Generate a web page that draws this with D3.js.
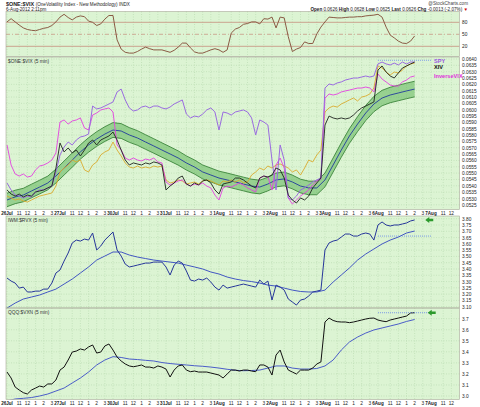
<!DOCTYPE html>
<html><head><meta charset="utf-8">
<script src="https://cdn.jsdelivr.net/npm/d3@7"></script>
<style>
body{margin:0;background:#fff}
svg{display:block}
text{font-family:"Liberation Sans",Arial,sans-serif}
</style>
</head><body>
<svg id="c" width="480" height="407"></svg>
<script>
// ---------- data (5-min chart sampled every half hour; index 0 = 26Jul 9:30) ----------
const dayLabels = ["26Jul","27Jul","30Jul","31Jul","1Aug","2Aug","3Aug","6Aug","7Aug"];
const hourLabels = ["11","12","1","2","3"];
const hourOffsets = [3,5,7,9,11];          // half-hours after the open
const mainTickLabels = ["0.0640","0.0635","0.0630","0.0625","0.0620","0.0615","0.0610","0.0605","0.0600","0.0595","0.0590","0.0585","0.0580","0.0575","0.0570","0.0565","0.0560","0.0555","0.0550","0.0545","0.0540","0.0535","0.0530","0.0525"];
const rsiTickLabels = ["80","50","20"];
const p2TickLabels = ["3.80","3.75","3.70","3.65","3.60","3.55","3.50","3.45","3.40","3.35","3.30","3.25","3.20","3.15","3.10"];
const p3TickLabels = ["3.7","3.6","3.5","3.4","3.3","3.2","3.1","3.0"];

const rsi = [81,89,81,73,66,62,60,59,62,65,
 67,72,81,93,100,92,86,93,96,94,
 83,80,72,76,88,97,97,36,13,5,
 3,3,7,13,18,14,11,11,11,8,
 5,10,18,28,28,16,6,3,3,7,
 11,14,11,5,11,53,63,67,75,77,
 81,81,76,89,88,93,66,93,91,44,
 7,13,17,31,27,27,51,68,81,93,
 92,91,91,92,93,93,94,94,96,97,
 98,100,93,68,48,41,33,28,27,33,46];

const spy = [.05422,.05367,.05327,.05319,.05304,.05319,.05312,.05351,.05367,.05367,
 .05383,.05398,.05509,.05643,.05706,.05745,.05722,.05761,.05785,.05793,
 .05808,.06029,.06006,.06014,.06029,.06045,.06061,.0614,.06163,.06077,
 .06014,.0599,.05998,.06021,.06029,.06014,.06029,.06029,.06014,.06006,
 .06021,.06045,.06061,.06077,.05966,.05935,.0595,.05943,.05966,.05998,
 .06014,.05982,.0584,.05982,.05974,.05958,.05982,.0599,.05998,.05982,
 .05935,.05801,.05919,.05903,.05879,.05603,.05367,.05722,.05603,.05304,
 .05288,.05319,.05367,.05383,.05406,.0543,.05446,.05461,.06171,.06203,
 .06195,.06211,.06219,.06234,.06242,.0625,.0625,.06258,.06266,.06258,
 .06266,.06361,.06376,.06361,.06353,.06368,.06353,.06376,.06361,.06376,.06376];

const xiv = [.05367,.05335,.05319,.05335,.05312,.05327,.05319,.05351,.05359,.05367,
 .05383,.05398,.0554,.05737,.05667,.05698,.05659,.05682,.05635,.05682,
 .05737,.05761,.05722,.05761,.05777,.05793,.05824,.05761,.05682,.05603,
 .05564,.0558,.05572,.05564,.0558,.05572,.05588,.0558,.05564,.05367,
 .05398,.05422,.05461,.05477,.05414,.05398,.05422,.05406,.05438,.05446,
 .05422,.05367,.05335,.05414,.05422,.0543,.05461,.05461,.05446,.05422,
 .05398,.05383,.05461,.05477,.05469,.05485,.0554,.05525,.05461,.05327,
 .05288,.05264,.05304,.05288,.05319,.05383,.05422,.05461,.05879,.0595,
 .05935,.05927,.05935,.05927,.05935,.05958,.0599,.06014,.06029,.06045,
 .06061,.06313,.06345,.06297,.06266,.0625,.0629,.06329,.06345,.06361,.06376];

const inverseVix = [.05722,.05564,.05493,.05477,.05493,.05469,.05477,.05525,.05556,.05564,
 .0558,.05603,.05659,.05903,.05919,.05887,.05911,.05919,.05935,.05856,
 .0584,.05958,.05974,.05998,.06006,.06014,.05982,.05722,.05682,.05619,
 .05603,.05619,.05603,.05596,.05611,.05603,.05619,.05588,.0558,.0543,
 .05406,.05422,.05438,.05446,.05414,.05398,.05414,.05406,.05422,.05398,
 .05383,.05327,.05288,.05383,.05398,.0539,.05406,.05422,.05406,.05383,
 .05367,.05351,.05461,.05477,.05469,.05367,.05564,.05619,.0554,.05304,
 .05256,.05288,.05319,.05343,.05367,.05406,.05438,.05454,.06092,.06124,
 .06116,.06124,.0614,.06148,.06155,.06163,.06171,.06171,.06179,.06171,
 .0614,.06282,.06242,.06219,.06195,.06187,.06187,.06219,.06234,.06258,.06266];

const oneVix = [.05319,.05304,.05288,.05296,.0528,.05272,.05288,.05304,.05319,.05327,
 .05335,.05343,.05398,.05509,.0554,.05564,.05603,.05588,.05603,.05525,
 .05509,.05564,.05588,.05643,.05667,.05682,.05745,.05682,.05635,.0558,
 .05548,.0554,.05556,.0554,.05548,.0554,.05556,.05548,.05556,.05446,
 .05422,.0543,.05446,.05438,.05414,.05422,.0543,.05414,.05438,.05446,
 .05438,.05422,.05406,.05438,.0543,.05446,.0543,.05446,.05422,.0543,
 .05485,.05509,.0554,.05525,.05556,.0554,.05564,.05572,.05556,.0554,
 .05509,.05525,.05485,.0554,.05603,.05588,.05643,.05682,.05982,.06014,
 .06029,.06021,.06045,.06061,.06077,.06092,.06069,.061,.06108,.06124,
 .06171,.06345,.06329,.06297,.06274,.06297,.0629,.06313,.06345,.06361,.06368];

// moving average (hourly samples) and its price envelope
const oneVixMA = [.05288,.05312,.05327,.05359,.0539,.05422,.05477,.0554,.05603,.05667,
 .05722,.05769,.05808,.0584,.05832,.05801,.05777,.05745,.05714,.05682,
 .05651,.05619,.0558,.05548,.05509,.05485,.05461,.05446,.0543,.05414,
 .05398,.0539,.05414,.05446,.05454,.0543,.05398,.05383,.05383,.05446,
 .05564,.05682,.05793,.05887,.05974,.06045,.06092,.06116,.06132,.06148,.06163];
const envelopePct = 0.01;

const iwmRvx = [3.328,3.304,3.288,3.248,3.256,3.217,3.217,3.224,3.224,3.240,
 3.240,3.288,3.368,3.392,3.463,3.527,3.607,3.630,3.622,3.638,
 3.630,3.686,3.551,3.583,3.630,3.662,3.694,3.551,3.503,3.439,
 3.416,3.423,3.431,3.439,3.447,3.447,3.455,3.455,3.455,3.416,
 3.352,3.431,3.463,3.447,3.384,3.312,3.304,3.320,3.312,3.328,
 3.296,3.256,3.232,3.272,3.248,3.256,3.264,3.272,3.280,3.272,
 3.264,3.256,3.312,3.280,3.304,3.153,3.272,3.256,3.232,3.161,
 3.137,3.113,3.153,3.161,3.185,3.217,3.224,3.232,3.551,3.607,
 3.622,3.630,3.654,3.678,3.678,3.662,3.662,3.678,3.686,3.678,
 3.630,3.750,3.774,3.750,3.742,3.750,3.750,3.758,3.766,3.782,3.790];
const iwmRvxMA = [3.089,3.129,3.161,3.177,3.193,3.217,3.240,3.280,3.320,3.368,
 3.416,3.471,3.503,3.535,3.535,3.511,3.495,3.483,3.471,3.463,
 3.455,3.447,3.431,3.416,3.400,3.376,3.360,3.336,3.320,3.308,
 3.300,3.288,3.272,3.264,3.248,3.232,3.221,3.217,3.217,3.232,
 3.296,3.352,3.408,3.471,3.519,3.559,3.599,3.630,3.654,3.686,3.702];

const qqqVxn = [3.217,3.163,3.081,3.054,3.030,3.018,3.054,3.072,3.090,3.081,
 3.109,3.109,3.145,3.235,3.262,3.326,3.398,3.407,3.426,3.416,
 3.444,3.462,3.389,3.398,3.453,3.471,3.416,3.353,3.317,3.290,
 3.272,3.265,3.272,3.281,3.262,3.262,3.253,3.272,3.262,3.244,
 3.172,3.235,3.272,3.281,3.235,3.220,3.226,3.217,3.217,3.217,
 3.208,3.199,3.190,3.163,3.199,3.235,3.235,3.226,3.235,3.235,
 3.226,3.220,3.281,3.281,3.262,3.190,3.371,3.416,3.308,3.235,
 3.217,3.199,3.235,3.235,3.235,3.253,3.290,3.308,3.670,3.706,
 3.684,3.673,3.670,3.670,3.664,3.670,3.679,3.688,3.697,3.704,
 3.706,3.688,3.679,3.673,3.688,3.697,3.706,3.715,3.724,3.752,3.754];
const qqqVxnMA = [2.955,2.973,2.979,2.986,3.000,3.018,3.045,3.072,3.118,3.163,
 3.217,3.281,3.326,3.356,3.349,3.335,3.330,3.323,3.317,3.303,
 3.294,3.287,3.281,3.274,3.269,3.262,3.253,3.242,3.233,3.229,
 3.231,3.235,3.253,3.272,3.272,3.253,3.244,3.244,3.249,3.272,
 3.326,3.416,3.489,3.534,3.570,3.598,3.616,3.634,3.652,3.675,3.693];

// reference levels (dotted, from 6Aug open to 7Aug open) and last-value arrows
const refStartIdx = 91, refEndIdx = 104;
const mainRef = 0.0639, p2Ref = 3.662, p3Ref = 3.754;
const p2Arrow = 3.790, p3Arrow = 3.754;

// ---------- layout ----------
const svg = d3.select("#c");
const X0 = 6, X1 = 459.5;
const x = d3.scaleLinear().domain([-0.25, 111]).range([X0, X1]);
const panels = {
  p1:   {top: 11.5, bottom: 56.5},
  main: {top: 57,   bottom: 209.5},
  p2:   {top: 216,  bottom: 308},
  p3:   {top: 308,  bottom: 399.5}
};
const yRsi  = d3.scaleLinear().domain([100, 0]).range([14.3, 54.3]);
const yMain = d3.scaleLinear().domain([0.0640, 0.0525]).range([59, 204.8]);
const yP2   = d3.scaleLinear().domain([3.80, 3.10]).range([218.7, 306.7]);
const yP3   = d3.scaleLinear().domain([3.7, 3.0]).range([318.7, 396]);

const BG = "#dcf4d3", GRID = "#b6d8ad", BORDER = "#a9a99a", TXT = "#222";

// backgrounds + clip paths
Object.entries(panels).forEach(([k, p]) => {
  svg.append("rect").attr("x", X0).attr("y", p.top).attr("width", X1 - X0)
    .attr("height", p.bottom - p.top).attr("fill", BG);
  svg.append("clipPath").attr("id", "clip-" + k).append("rect")
    .attr("x", X0).attr("y", p.top).attr("width", X1 - X0).attr("height", p.bottom - p.top);
});

// vertical grid at day opens and hour ticks
const tickIdx = [];
dayLabels.forEach((d, di) => {
  tickIdx.push({i: di * 13, label: d, day: true});
  hourOffsets.forEach((o, hi) => tickIdx.push({i: di * 13 + o, label: hourLabels[hi], day: false}));
});
const visibleTicks = tickIdx.filter(t => x(t.i) <= X1 - 2);
Object.values(panels).forEach(p => {
  svg.append("g").selectAll("line").data(visibleTicks).join("line")
    .attr("x1", d => x(d.i)).attr("x2", d => x(d.i))
    .attr("y1", p.top).attr("y2", p.bottom)
    .attr("stroke", GRID).attr("stroke-width", 0.6).attr("stroke-dasharray", "1,1.5");
});

// horizontal grid + right axes
function rightAxis(scale, labels, top, bottom, grid) {
  const vals = labels.map(Number);
  if (grid) {
    svg.append("g").selectAll("line").data(vals.filter(v => scale(v) > top + 1 && scale(v) < bottom - 1)).join("line")
      .attr("x1", X0).attr("x2", X1).attr("y1", d => scale(d)).attr("y2", d => scale(d))
      .attr("stroke", GRID).attr("stroke-width", 0.6).attr("stroke-dasharray", "1,1.5");
  }
  const ax = d3.axisRight(scale).tickValues(vals).tickSize(0).tickPadding(0)
    .tickFormat((d, i) => labels[i]);
  const g = svg.append("g").attr("transform", `translate(${X1 + 2.5},0)`).call(ax);
  g.select(".domain").remove();
  g.selectAll("text").attr("font-size", 4.8).attr("fill", TXT)
    .attr("font-family", '"Liberation Sans", Arial, sans-serif');
}
rightAxis(yMain, mainTickLabels, panels.main.top, panels.main.bottom, true);
rightAxis(yRsi, rsiTickLabels, panels.p1.top, panels.p1.bottom, false);
rightAxis(yP2, p2TickLabels, panels.p2.top, panels.p2.bottom, true);
rightAxis(yP3, p3TickLabels, panels.p3.top, panels.p3.bottom, true);

// helpers
function series(g, data, step, y, color, w) {
  const ln = d3.line().x((d, i) => x(i * step)).y(d => y(d)).curve(d3.curveLinear);
  g.append("path").datum(data).attr("d", ln).attr("fill", "none")
    .attr("stroke", color).attr("stroke-width", w || 0.9).attr("stroke-linejoin", "round");
}

// ---------- panel 1 : RSI ----------
const g1 = svg.append("g").attr("clip-path", "url(#clip-p1)");
[80, 20].forEach(v => g1.append("line").attr("x1", X0).attr("x2", X1)
  .attr("y1", yRsi(v)).attr("y2", yRsi(v)).attr("stroke", "#c99a86").attr("stroke-width", 0.9));
g1.append("line").attr("x1", X0).attr("x2", X1).attr("y1", yRsi(50)).attr("y2", yRsi(50))
  .attr("stroke", "#c99a86").attr("stroke-width", 0.8).attr("stroke-dasharray", "4,2,1,2");
series(g1, rsi, 1, yRsi, "#8a5a44", 1);

// ---------- main panel ----------
const gm = svg.append("g").attr("clip-path", "url(#clip-main)");
const area = d3.area().x((d, i) => x(i * 2))
  .y0(d => yMain(d * (1 - envelopePct))).y1(d => yMain(d * (1 + envelopePct)));
gm.append("path").datum(oneVixMA).attr("d", area).attr("fill", "#5fb45a").attr("fill-opacity", 0.55);
series(gm, oneVixMA.map(d => d * (1 + envelopePct)), 2, yMain, "#2d7a2d", 0.8);
series(gm, oneVixMA.map(d => d * (1 - envelopePct)), 2, yMain, "#2d7a2d", 0.8);
series(gm, oneVixMA, 2, yMain, "#2e4a9c", 1);
series(gm, oneVix, 1, yMain, "#d9aa2e", 0.9);
series(gm, inverseVix, 1, yMain, "#e33fe0", 0.9);
series(gm, spy, 1, yMain, "#9a6be0", 1);
series(gm, xiv, 1, yMain, "#1e241e", 0.9);
gm.append("line").attr("x1", x(refStartIdx)).attr("x2", x(refEndIdx))
  .attr("y1", yMain(mainRef)).attr("y2", yMain(mainRef))
  .attr("stroke", "#7f9ee8").attr("stroke-width", 1).attr("stroke-dasharray", "1,1");

// legend
const legend = [{t: "SPY", c: "#9a55e0", y: 63}, {t: "XIV", c: "#111", y: 69}, {t: "InverseVIX", c: "#e02ddc", y: 78}];
svg.append("g").selectAll("text").data(legend).join("text")
  .attr("x", 434).attr("y", d => d.y).attr("fill", d => d.c)
  .attr("font-size", 5.6).attr("font-weight", "bold").text(d => d.t);

// ---------- panel 2 ----------
const g2 = svg.append("g").attr("clip-path", "url(#clip-p2)");
series(g2, iwmRvxMA, 2, yP2, "#4256c2", 1);
series(g2, iwmRvx, 1, yP2, "#26369a", 1);
g2.append("line").attr("x1", x(refStartIdx)).attr("x2", x(refEndIdx))
  .attr("y1", yP2(p2Ref)).attr("y2", yP2(p2Ref))
  .attr("stroke", "#6f8fe8").attr("stroke-width", 0.9).attr("stroke-dasharray", "1,1");

// ---------- panel 3 ----------
const g3 = svg.append("g").attr("clip-path", "url(#clip-p3)");
series(g3, qqqVxnMA, 2, yP3, "#4a5cc8", 1);
series(g3, qqqVxn, 1, yP3, "#111", 1);
g3.append("line").attr("x1", x(refStartIdx)).attr("x2", x(refEndIdx))
  .attr("y1", yP3(p3Ref)).attr("y2", yP3(p3Ref))
  .attr("stroke", "#6f8fe8").attr("stroke-width", 0.9).attr("stroke-dasharray", "1,1");

// arrows (last value markers)
function arrow(ax, ay) {
  svg.append("path")
    .attr("d", `M${ax},${ay} L${ax + 4},${ay - 3} L${ax + 4},${ay - 1.3} L${ax + 8},${ay - 1.3} L${ax + 8},${ay + 1.3} L${ax + 4},${ay + 1.3} L${ax + 4},${ay + 3} Z`)
    .attr("fill", "#2c9a2c");
}
arrow(x(102.6), yP2(p2Arrow));
arrow(x(103.2), yP3(p3Arrow));

// panel borders
Object.values(panels).forEach(p => {
  svg.append("rect").attr("x", X0).attr("y", p.top).attr("width", X1 - X0)
    .attr("height", p.bottom - p.top).attr("fill", "none")
    .attr("stroke", BORDER).attr("stroke-width", 0.6);
});

// x axis labels (below main panel and at bottom)
function xLabels(yPos) {
  svg.append("g").selectAll("text").data(visibleTicks).join("text")
    .attr("x", d => x(d.i)).attr("y", yPos).attr("text-anchor", "middle")
    .attr("font-size", d => d.day ? 4.6 : 4.8).attr("font-weight", d => d.day ? "bold" : "normal")
    .attr("fill", TXT).text(d => d.label);
}
xLabels(214.5);
xLabels(404.5);

// panel labels
const plabels = [{t: "$ONE:$VIX (5 min)", y: 62.5}, {t: "IWM:$RVX (5 min)", y: 221.5}, {t: "QQQ:$VXN (5 min)", y: 313.5}];
svg.append("g").selectAll("text").data(plabels).join("text")
  .attr("x", 8).attr("y", d => d.y).attr("font-size", 4.8).attr("fill", "#333").text(d => d.t);

// header
const h1 = svg.append("text").attr("x", 6).attr("y", 5.5).attr("font-size", 4.6).attr("fill", TXT);
h1.append("tspan").attr("font-weight", "bold").attr("font-size", 5.4).text("$ONE:$VIX ");
h1.append("tspan").text("(OneVolatility Index - New Methodology) INDX");
svg.append("text").attr("x", 6).attr("y", 10.8).attr("font-size", 4.6).attr("fill", TXT).text("6-Aug-2012 2:11pm");
svg.append("text").attr("x", 468).attr("y", 4.5).attr("text-anchor", "end").attr("font-size", 4.6)
  .attr("fill", "#444").text("@StockCharts.com");
const h2 = svg.append("text").attr("x", 468).attr("y", 10.5).attr("text-anchor", "end").attr("font-size", 4.6).attr("fill", TXT);
[["Open", "0.0626"], ["High", "0.0628"], ["Low", "0.0625"], ["Last", "0.0626"], ["Chg", "-0.0013 (-2.07%)"]].forEach(([k, v]) => {
  h2.append("tspan").attr("font-weight", "bold").text(k + " ");
  h2.append("tspan").text(v + "  ");
});
h2.append("tspan").attr("fill", "#c00").text("▼");
</script>
</body></html>
